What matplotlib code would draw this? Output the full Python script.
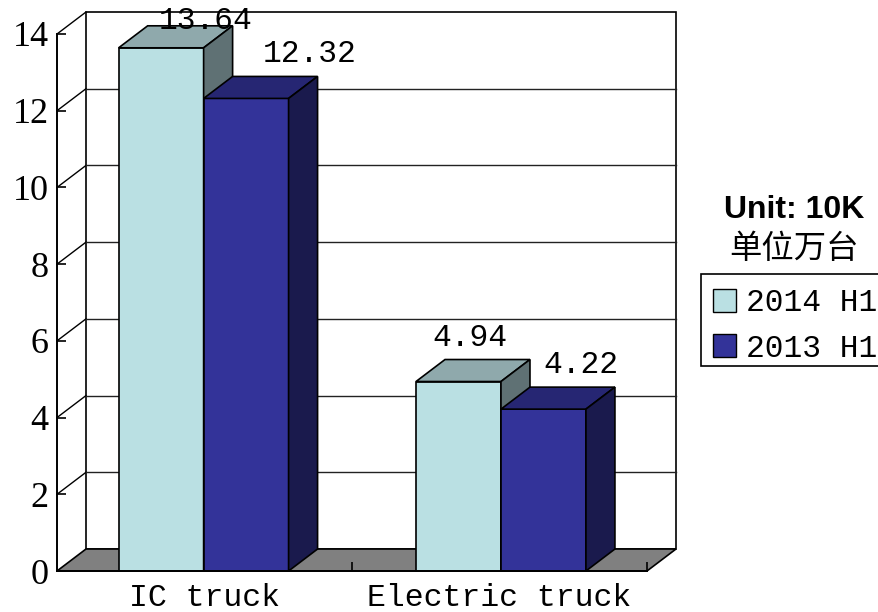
import numpy as np
import matplotlib
matplotlib.use("Agg")
import matplotlib.pyplot as plt
from matplotlib.patches import Polygon, Patch, Rectangle

categories = ["IC truck", "Electric truck"]
series_names = ["2014 H1", "2013 H1"]
values_2014 = [13.64, 4.94]
values_2013 = [12.32, 4.22]
y_ticks = [0, 2, 4, 6, 8, 10, 12, 14]

# face, top, side
colors_2014 = ["#BAE0E3", "#8FA9AC", "#5F7174"]
colors_2013 = ["#333399", "#262673", "#1A1A4D"]

W, H = 879, 612
SERIF = "Liberation Serif"
MONO = "Liberation Mono"

fig = plt.figure(figsize=(W / 100, H / 100), dpi=100)
ax = fig.add_axes([57 / W, 1 - 571 / H, 590 / W, 537 / H])
ax.set_xlim(0, 2)
ax.set_ylim(0, 14)

# fake 3d depth, in data units
dx = 29 / 295
dy = 22 / 38.36
bar_w = 0.288
gaps = [0.209, 0.217]


def poly(pts, fc, ec="black", lw=1.2, z=1):
    ax.add_patch(Polygon(pts, closed=True, facecolor=fc, edgecolor=ec, linewidth=lw, zorder=z, clip_on=False))


# back wall and left wall
poly([(dx, dy), (2 + dx, dy), (2 + dx, 14 + dy), (dx, 14 + dy)], "white", z=0.5)
for v in y_ticks[1:]:
    ax.plot([0, dx], [v, v + dy], color="black", lw=1.0, clip_on=False, zorder=0.8)
    if v < 14:
        ax.plot([dx, 2 + dx], [v + dy, v + dy], color="#222222", lw=1.0, clip_on=False, zorder=0.8)

# floor
poly([(0, 0), (dx, dy), (2 + dx, dy), (2, 0)], "#808080", z=0.9)


def bar3d(x, v, cols, z):
    poly([(x, 0), (x + bar_w, 0), (x + bar_w, v), (x, v)], cols[0], z=z)
    poly([(x, v), (x + bar_w, v), (x + bar_w + dx, v + dy), (x + dx, v + dy)], cols[1], z=z)
    poly([(x + bar_w, 0), (x + bar_w + dx, dy), (x + bar_w + dx, v + dy), (x + bar_w, v)], cols[2], z=z)


for i in range(len(categories)):
    bar3d(i + gaps[i], values_2014[i], colors_2014, 1 + i * 0.1)
    bar3d(i + gaps[i] + bar_w, values_2013[i], colors_2013, 1.05 + i * 0.1)

# value labels, offsets in points from the bar's top centre
offs_2014 = [(32, 19), (8, 31)]
offs_2013 = [(46, 32), (27, 32)]
for i in range(len(categories)):
    ax.annotate(f"{values_2014[i]:.2f}", (i + gaps[i] + bar_w / 2, values_2014[i]), xytext=offs_2014[i],
                textcoords="offset points", ha="center", va="center", fontsize=22.5, family=MONO, zorder=5)
    ax.annotate(f"{values_2013[i]:.2f}", (i + gaps[i] + bar_w * 1.5, values_2013[i]), xytext=offs_2013[i],
                textcoords="offset points", ha="center", va="center", fontsize=22.5, family=MONO, zorder=5)

for s in ["top", "right"]:
    ax.spines[s].set_visible(False)
for s in ["left", "bottom"]:
    ax.spines[s].set_linewidth(1.4)
    ax.spines[s].set_zorder(3)

ax.set_yticks(y_ticks)
ax.set_yticklabels([str(v) for v in y_ticks], fontsize=26, family=SERIF)
ax.tick_params(axis="y", direction="in", length=6.5, width=1.2, pad=6)
ax.set_xticks([0.5, 1.5])
ax.set_xticklabels(categories, fontsize=22.7, family=MONO)
ax.set_xticks([1, 2], minor=True)
ax.tick_params(axis="x", which="major", length=0, pad=9)
ax.tick_params(axis="x", which="minor", direction="in", length=6.5, width=1.2)
ax.set_axisbelow(False)

# unit caption and legend to the right
fig.text(794 / W, 1 - 210 / H, "Unit: 10K", ha="center", va="center", fontsize=23, fontweight="bold",
         family="Liberation Sans")
fig.text(794 / W, 1 - 249 / H, "单位万台", ha="center", va="center", fontsize=23.3, family="Noto Sans CJK SC")

# frame drawn apart because the rows don't sit centred in it
fig.add_artist(Rectangle((701 / W, 1 - 366 / H), 179 / W, 92 / H, transform=fig.transFigure,
                         facecolor="white", edgecolor="black", linewidth=1.2))
handles = [Patch(facecolor=colors_2014[0], edgecolor="black", linewidth=1),
           Patch(facecolor=colors_2013[0], edgecolor="black", linewidth=1)]
leg = fig.legend(handles, series_names, loc="upper left", bbox_to_anchor=(699 / W, 1 - 274 / H),
                 frameon=False, borderaxespad=0,
                 prop={"family": MONO, "size": 22.5}, handlelength=0.75, handleheight=0.75,
                 handletextpad=0.3, labelspacing=0.5, borderpad=0.45)

fig.savefig("out.png", dpi=100)
